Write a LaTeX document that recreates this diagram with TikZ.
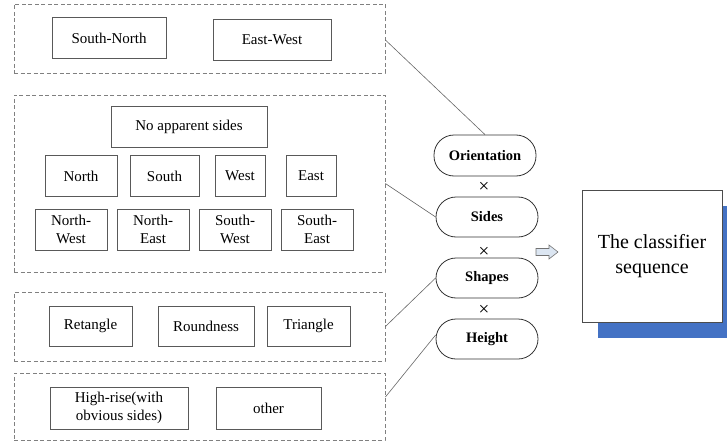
\documentclass[tikz,border=0pt]{standalone}
\usepackage{fontspec}
\setmainfont{Liberation Serif}
\usetikzlibrary{shadows,calc}

\tikzset{
  group/.style={draw=black!50, line width=0.8pt, dash pattern=on 4pt off 2.5pt,
    minimum width=371pt, inner sep=0pt},
  item/.style={draw=black!65, line width=0.8pt, inner sep=0pt, align=center,
    font=\fontsize{15}{18}\selectfont, minimum height=41pt},
  factor/.style={draw=black!80, line width=0.8pt, rounded corners=20pt,
    minimum width=102pt, minimum height=40pt, inner sep=0pt,
    font=\fontsize{14.5}{17}\selectfont\bfseries},
  times/.style={font=\fontsize{19}{20}\selectfont, inner sep=0pt},
  link/.style={draw=black!60, line width=0.6pt},
  hollowarrow/.style={draw=black!55, fill={rgb,255:red,220;green,230;blue,242},
    line width=0.6pt, line join=miter},
}

\begin{document}
\begin{tikzpicture}[x=1pt,y=-1pt]
\useasboundingbox (0,0) rectangle (727,441);
\clip (0,0) rectangle (727,441);

% dashed groups
\node[group, minimum height=69pt]  (orient) at (199.5,38.5)  {};
\node[group, minimum height=177pt] (sides)  at (199.5,183.5) {};
\node[group, minimum height=69pt]  (shapes) at (199.5,326.5) {};
\node[group, minimum height=67pt]  (height) at (199.5,406.5) {};

% orientation values
\node[item, minimum width=114pt] (sn) at (109,38) {South-North};
\node[item, minimum width=118pt] (ew) at (272,40) {East-West};

% side values
\node[item, minimum width=156pt] (nas) at (189,126.5) {No apparent sides};
\node[item, minimum width=72pt] (n) at (81,176) {North};
\node[item, minimum width=69pt] (s) at (164.5,176) {South};
\node[item, minimum width=50pt] (w) at (240,176) {West};
\node[item, minimum width=50pt] (e) at (311,176) {East};
\node[item, minimum width=72pt] (nw) at (71,229.5) {North-\\West};
\node[item, minimum width=72pt] (ne) at (153,229.5) {North-\\East};
\node[item, minimum width=72pt] (sw) at (235,229.5) {South-\\West};
\node[item, minimum width=72pt] (se) at (317,229.5) {South-\\East};

% shape values
\node[item, minimum width=83pt, minimum height=40pt] (rect) at (90.5,326) {Retangle};
\node[item, minimum width=96pt, minimum height=40pt] (round) at (206,326) {Roundness};
\node[item, minimum width=83pt, minimum height=40pt] (tri) at (308.5,326) {Triangle};

% height values
\node[item, minimum width=138pt, minimum height=42pt] (hr) at (119,408) {High-rise(with\\obvious sides)};
\node[item, minimum width=105pt, minimum height=42pt] (oth) at (268.5,408) {other};

% factors
\node[factor, minimum height=41pt] (fo) at (485,155.5) {Orientation};
\node[factor] (fs) at (487,217) {Sides};
\node[factor] (fsh) at (487,278) {Shapes};
\node[factor] (fh) at (487,339) {Height};

\node[times] (x1) at (484,187) {×};
\node[times] (x2) at (484,252) {×};
\node[times] (x3) at (484,310) {×};

% links from groups to factors
\draw[link] ($(orient.east)+(0,1.5)$) -- (fo.north);
\draw[link] (sides.east) -- (fs.west);
\draw[link] (shapes.east) -- (fsh.west);
\draw[link] ($(height.east)+(0,-9.5)$) -- ($(fh.west)+(0,-4)$);

% hollow block arrow towards the result
\coordinate (arr) at (536,252);
\draw[hollowarrow] (arr) ++(0,-3.5) -- ++(13,0) -- ++(0,-3.5) -- ++(9,7)
  -- ++(-9,7) -- ++(0,-3.5) -- ++(-13,0) -- cycle;

% result
\node[draw=black!70, fill=white, line width=0.6pt, minimum width=140pt,
  minimum height=132pt, inner sep=0pt, align=center,
  font=\fontsize{20}{25}\selectfont,
  drop shadow={shadow xshift=16pt, shadow yshift=-16pt,
    fill={rgb,255:red,68;green,114;blue,196}, opacity=1}] (seq) at (652,256)
  {The classifier\\sequence};
\end{tikzpicture}
\end{document}
